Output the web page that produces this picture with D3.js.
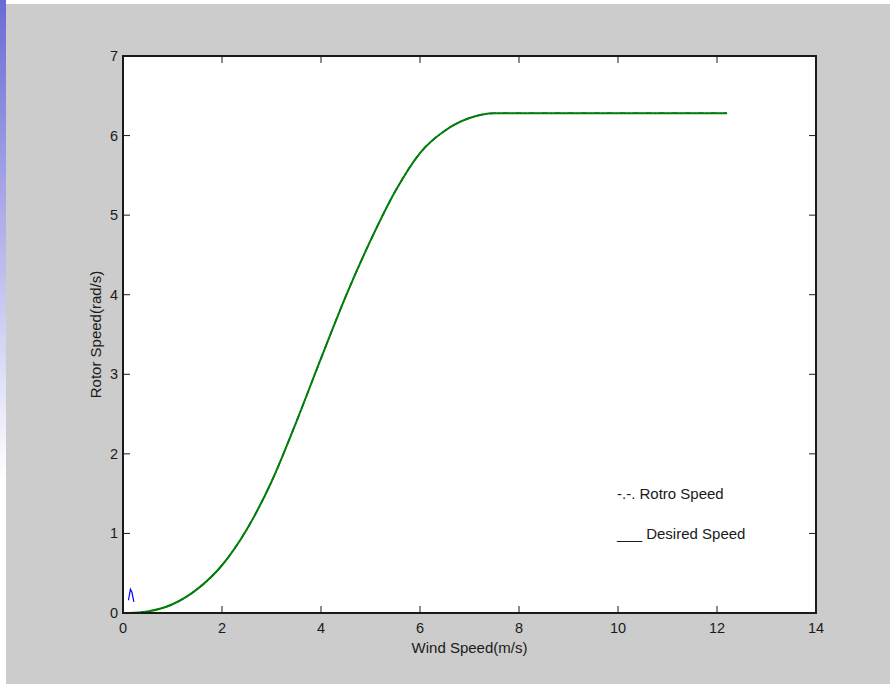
<!DOCTYPE html>
<html>
<head>
<meta charset="utf-8">
<script src="https://cdn.jsdelivr.net/npm/d3@7"></script>
<style>
  body { margin: 0; background: #fff; }
  svg text { font-family: "Liberation Sans", Arial, sans-serif; fill: #1a1a1a; }
</style>
</head>
<body>
<div id="chart"></div>
<script>
// wind speed vs rotor speed
let windSpeed = [0.1, 0.5, 1.0, 1.5, 2.0, 2.5, 3.0, 3.5, 4.0, 4.5, 5.0, 5.5, 6.0, 6.5, 7.0, 7.5, 8.0, 9.0, 10.0, 11.0, 12.2];
let desiredSpeed = [0, 0.02, 0.11, 0.3, 0.6, 1.05, 1.65, 2.4, 3.2, 3.98, 4.68, 5.3, 5.78, 6.06, 6.22, 6.28, 6.28, 6.28, 6.28, 6.28, 6.28];
// rotor speed: small start-up blip, then follows the desired curve
let rotorBlipX = [0.11, 0.15, 0.18, 0.22];
let rotorBlipY = [0.16, 0.3, 0.26, 0.14];
let xTicks = [0, 2, 4, 6, 8, 10, 12, 14];
let yTicks = [0, 1, 2, 3, 4, 5, 6, 7];
let legendLabels = ['-.-. Rotro Speed', '___ Desired Speed'];

let width = 890;
let height = 685;
let margin = { left: 123, right: 74, top: 56, bottom: 72 };

let svg = d3.select('#chart').append('svg')
  .attr('width', width)
  .attr('height', height);

// slide-style background
let defs = svg.append('defs');
let grad = defs.append('linearGradient')
  .attr('id', 'strip')
  .attr('x1', 0).attr('y1', 0).attr('x2', 0).attr('y2', 1);
grad.append('stop').attr('offset', '0%').attr('stop-color', '#6a6ad6');
grad.append('stop').attr('offset', '70%').attr('stop-color', '#ffffff');

svg.append('rect')
  .attr('x', 0).attr('y', 0)
  .attr('width', 6).attr('height', height)
  .style('fill', 'url(#strip)');

svg.append('rect')
  .attr('x', 6).attr('y', 4)
  .attr('width', width - 6).attr('height', 680)
  .style('fill', '#cccccc');

let x = d3.scaleLinear().domain([0, 14]).range([margin.left, width - margin.right]);
let y = d3.scaleLinear().domain([0, 7]).range([height - margin.bottom, margin.top]);

// plot box
svg.append('rect')
  .attr('x', x(0)).attr('y', y(7))
  .attr('width', x(14) - x(0)).attr('height', y(0) - y(7))
  .style('fill', '#ffffff');

let g = svg.append('g');

// ticks inside, matlab style
let tickLen = 7;
let ticks = g.append('g').attr('stroke', '#1a1a1a').attr('stroke-width', 1);
xTicks.forEach((t) => {
  ticks.append('line').attr('x1', x(t)).attr('x2', x(t)).attr('y1', y(0)).attr('y2', y(0) - tickLen);
  ticks.append('line').attr('x1', x(t)).attr('x2', x(t)).attr('y1', y(7)).attr('y2', y(7) + tickLen);
});
yTicks.forEach((t) => {
  ticks.append('line').attr('x1', x(0)).attr('x2', x(0) + tickLen).attr('y1', y(t)).attr('y2', y(t));
  ticks.append('line').attr('x1', x(14)).attr('x2', x(14) - tickLen).attr('y1', y(t)).attr('y2', y(t));
});

g.selectAll('.xlab').data(xTicks).enter().append('text')
  .attr('x', (d) => x(d))
  .attr('y', y(0) + 20)
  .attr('text-anchor', 'middle')
  .style('font-size', '14.5px')
  .text((d) => d);

g.selectAll('.ylab').data(yTicks).enter().append('text')
  .attr('x', x(0) - 5)
  .attr('y', (d) => y(d) + 5)
  .attr('text-anchor', 'end')
  .style('font-size', '14.5px')
  .text((d) => d);

// curves
let line = d3.line()
  .x((d) => x(d[0]))
  .y((d) => y(d[1]))
  .curve(d3.curveMonotoneX);

let desired = windSpeed.map((w, i) => [w, desiredSpeed[i]]);
let blip = rotorBlipX.map((w, i) => [w, rotorBlipY[i]]);

g.append('path')
  .attr('d', d3.line().x((d) => x(d[0])).y((d) => y(d[1]))(blip))
  .style('fill', 'none')
  .style('stroke', '#0000ff')
  .style('stroke-width', 1.2);

g.append('path')
  .attr('d', line(desired))
  .style('fill', 'none')
  .style('stroke', '#0000ff')
  .style('stroke-width', 1.5)
  .style('stroke-dasharray', '6,3,1,3');

g.append('path')
  .attr('d', line(desired))
  .style('fill', 'none')
  .style('stroke', '#008000')
  .style('stroke-width', 2);

// frame
g.append('rect')
  .attr('x', x(0)).attr('y', y(7))
  .attr('width', x(14) - x(0)).attr('height', y(0) - y(7))
  .style('fill', 'none')
  .style('stroke', '#1a1a1a')
  .style('stroke-width', 2);

// axis labels
g.append('text')
  .attr('x', (x(0) + x(14)) / 2)
  .attr('y', y(0) + 40)
  .attr('text-anchor', 'middle')
  .style('font-size', '15px')
  .text('Wind Speed(m/s)');

g.append('text')
  .attr('transform', 'translate(101,' + ((y(0) + y(7)) / 2) + ') rotate(-90)')
  .attr('text-anchor', 'middle')
  .style('font-size', '15px')
  .text('Rotor Speed(rad/s)');

// legend text
g.selectAll('.leg').data(legendLabels).enter().append('text')
  .attr('x', 617)
  .attr('y', (d, i) => 499 + i * 40)
  .style('font-size', '15px')
  .text((d) => d);
</script>
</body>
</html>
